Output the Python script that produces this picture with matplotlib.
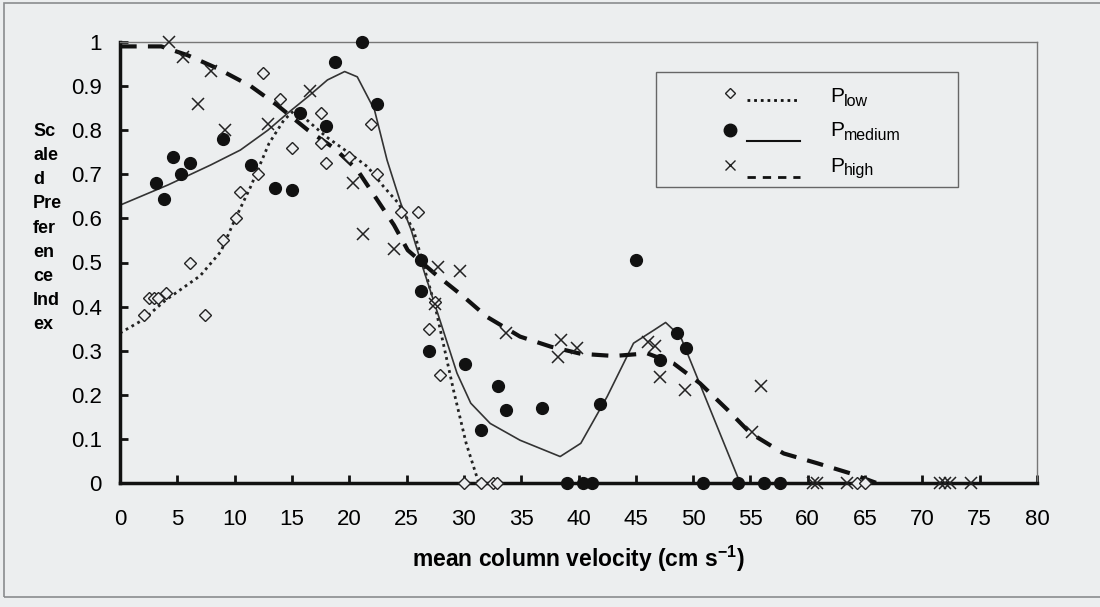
import numpy as np
import matplotlib.pyplot as plt
from matplotlib.patches import Rectangle

plt.rcParams['font.family'] = ['Liberation Sans', 'DejaVu Sans']
plt.rcParams['mathtext.fontset'] = 'custom'
plt.rcParams['mathtext.bf'] = 'Liberation Sans:bold'
plt.rcParams['mathtext.rm'] = 'Liberation Sans'

low_x = [2.1, 2.5, 3.0, 3.35, 4.0, 6.1, 7.4, 9.0, 10.1, 10.5, 12.0, 12.5, 14.0, 15.0,
         17.5, 17.5, 18.0, 20.0, 21.9, 22.4, 24.5, 26.0, 27.5, 27.0, 27.9,
         30.0, 31.5, 32.5, 32.9, 64.3, 65.0]
low_y = [0.38, 0.42, 0.42, 0.42, 0.43, 0.50, 0.38, 0.55, 0.60, 0.66, 0.70, 0.93, 0.87, 0.76,
         0.84, 0.77, 0.725, 0.74, 0.815, 0.70, 0.615, 0.615, 0.41, 0.35, 0.245,
         0, 0, 0, 0, 0, 0]

med_x = [3.1, 3.8, 4.6, 5.3, 6.1, 9.0, 11.4, 13.5, 15.0, 15.7, 18.0, 18.8, 21.1, 22.4,
         26.3, 26.3, 27.0, 30.1, 31.5, 33.0, 33.7, 36.8, 41.9, 45.0, 47.1, 48.6, 49.4,
         39.0, 40.4, 41.2, 50.9, 53.9, 56.2, 57.6]
med_y = [0.68, 0.645, 0.74, 0.70, 0.725, 0.78, 0.72, 0.67, 0.665, 0.84, 0.81, 0.955, 1.0, 0.86,
         0.505, 0.435, 0.30, 0.27, 0.12, 0.22, 0.165, 0.17, 0.18, 0.505, 0.28, 0.34, 0.305,
         0, 0, 0, 0, 0, 0, 0]

high_x = [4.3, 5.5, 6.8, 7.9, 9.2, 12.9, 16.6, 20.3, 21.2, 23.9, 27.5, 27.7, 29.7, 33.7,
          38.2, 38.5, 39.9, 46.1, 46.7, 47.1, 49.3, 55.1, 55.9,
          60.5, 60.8, 63.4, 71.5, 72.0, 72.4, 74.2]
high_y = [1.0, 0.965, 0.86, 0.935, 0.80, 0.815, 0.89, 0.68, 0.565, 0.53, 0.405, 0.49, 0.48, 0.34,
          0.285, 0.325, 0.305, 0.32, 0.31, 0.24, 0.21, 0.115, 0.22,
          0, 0, 0, 0, 0, 0, 0]

# fitted curves
low_cx = [0, 2, 4, 7, 8.8, 10, 11.4, 13, 14.3, 15.2, 16, 18, 20, 21.6, 23, 24.3, 25.6,
          27.5, 29.1, 30.2, 31.3]
low_cy = [0.34, 0.37, 0.415, 0.47, 0.525, 0.596, 0.672, 0.77, 0.823, 0.845, 0.83, 0.785,
          0.748, 0.717, 0.672, 0.634, 0.574, 0.40, 0.21, 0.09, 0.0]

med_cx = [0, 4.2, 7.9, 10.5, 12.9, 14.6, 16.4, 18.1, 19.6, 20.7, 22.2, 23.3, 24.5, 25.4,
          26.2, 28.0, 29.4, 30.6, 32.3, 34.9, 38.4, 40.2, 42.5, 44.8, 46.6, 47.6, 48.9,
          49.5, 54.1]
med_cy = [0.63, 0.676, 0.721, 0.755, 0.80, 0.838, 0.876, 0.914, 0.933, 0.921, 0.846, 0.732,
          0.634, 0.574, 0.506, 0.362, 0.249, 0.181, 0.135, 0.097, 0.06, 0.09, 0.196, 0.317,
          0.347, 0.364, 0.332, 0.294, 0.0]

high_cx = [0, 2.1, 3.6, 5.9, 8.5, 11.4, 13.7, 16.4, 18.7, 20.7, 23.9, 25.1, 27.4, 30.0,
           32.0, 34.9, 37.6, 40.2, 43.1, 46.0, 48.3, 50.6, 53.0, 55.0, 57.9, 60.8, 63.7, 66.0]
high_cy = [0.99, 0.99, 0.99, 0.97, 0.94, 0.90, 0.857, 0.80, 0.759, 0.71, 0.585, 0.528,
           0.476, 0.422, 0.377, 0.332, 0.309, 0.293, 0.288, 0.294, 0.271, 0.226, 0.166,
           0.113, 0.067, 0.045, 0.022, 0.0]

x_ticks = list(range(0, 81, 5))
y_ticks = [0, 0.1, 0.2, 0.3, 0.4, 0.5, 0.6, 0.7, 0.8, 0.9, 1]
y_ticklabels = ['0', '0.1', '0.2', '0.3', '0.4', '0.5', '0.6', '0.7', '0.8', '0.9', '1']

bg = '#eceeef'
W, H = 1100, 607
fig = plt.figure(figsize=(W / 100, H / 100), dpi=100, facecolor=bg)
ax = fig.add_axes([120 / W, 1 - 483 / H, 917 / W, 441 / H], facecolor=bg)

# outer chart border
fig.patches.append(Rectangle((4 / W, 1 - 597 / H), 1.2, 594 / H, transform=fig.transFigure,
                             fill=False, edgecolor='#8a8c8e', lw=1.2))

ax.plot(low_cx, low_cy, color='#222222', lw=2, linestyle=(0, (1, 1.4)), zorder=2)
ax.plot(med_cx, med_cy, color='#333333', lw=1.2, zorder=2)
ax.plot(high_cx, high_cy, color='#111111', lw=3, dashes=(4, 2.7), zorder=2)

ax.plot(low_x, low_y, 'D', ms=6.5, mfc=bg, mec='#222222', mew=1, ls='none', clip_on=False, zorder=3)
ax.plot(med_x, med_y, 'o', ms=8.5, color='#111111', ls='none', clip_on=False, zorder=3)
ax.plot(high_x, high_y, 'x', ms=8, mew=1.1, color='#222222', ls='none', clip_on=False, zorder=3)

ax.set_xlim(0, 80)
ax.set_ylim(0, 1)
ax.set_xticks(x_ticks)
ax.set_yticks(y_ticks)
ax.set_yticklabels(y_ticklabels)
ax.tick_params(direction='in', length=6, width=2, labelsize=16, color='#111111')
ax.tick_params(axis='x', pad=19)
ax.tick_params(axis='y', pad=13)

for s in ['left', 'bottom']:
    ax.spines[s].set_linewidth(2.5)
    ax.spines[s].set_color('#111111')
for s in ['top', 'right']:
    ax.spines[s].set_linewidth(1)
    ax.spines[s].set_color('#777777')

ax.set_xlabel('mean column velocity (cm s$^{\\mathbf{-1}}$)', fontsize=16.5, fontweight='bold', labelpad=10)
fig.text(33 / W, 1 - 123 / H, 'Sc\nale\nd\nPre\nfer\nen\nce\nInd\nex', fontsize=13,
         fontweight='bold', va='top', ha='left', linespacing=1.55)


# hand-built legend (marker, line sample, label)
def px(xp, yp):
    return ((xp - 120) / 917, (483 - yp) / 441)


x0, y0 = px(656, 187)
x1, y1 = px(958, 72)
ax.add_patch(Rectangle((x0, y0), x1 - x0, y1 - y0, transform=ax.transAxes,
                       fill=True, facecolor=bg, edgecolor='#666666', lw=1, zorder=5))
rows = [
    ('D', dict(ms=5, mfc=bg, mec='#222222', mew=1), dict(lw=2, linestyle=(0, (1, 1.4))), 'low', 93, 100, 97),
    ('o', dict(ms=9, color='#111111'), dict(lw=1.5), 'medium', 130, 141, 131),
    ('x', dict(ms=7, mew=1, color='#222222'), dict(lw=2, dashes=(3, 2.5)), 'high', 165, 177, 166),
]
for mk, mkw, lkw, sub, ym, yl, yt in rows:
    ax.plot([px(730, ym)[0]], [px(730, ym)[1]], mk, transform=ax.transAxes, zorder=6, **mkw)
    ax.plot([px(747, yl)[0], px(800, yl)[0]], [px(747, yl)[1]] * 2, color='#111111',
            transform=ax.transAxes, zorder=6, **lkw)
    ax.text(*px(830, yt), 'P', fontsize=15, va='center', ha='left', transform=ax.transAxes, zorder=6)
    ax.text(*px(844, yt + 5), sub, fontsize=11.5, va='center', ha='left', transform=ax.transAxes, zorder=6)

fig.savefig('out.png', dpi=100, facecolor=bg)
